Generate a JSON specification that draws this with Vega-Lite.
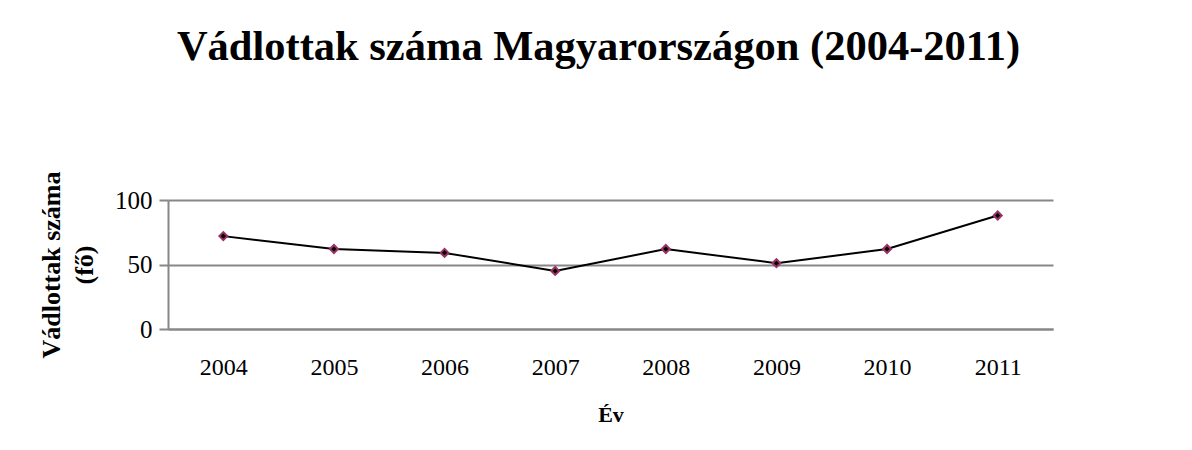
{
  "$schema": "https://vega.github.io/schema/vega-lite/v6.json",
  "width": 885,
  "height": 129,
  "autosize": {"type": "none"},
  "padding": {"left": 168, "top": 200, "right": 139, "bottom": 121},
  "background": "white",
  "title": {
    "text": "Vádlottak száma Magyarországon (2004-2011)",
    "font": "Liberation Serif",
    "fontSize": 42.5,
    "fontWeight": "bold",
    "color": "black",
    "anchor": "middle",
    "dx": -12,
    "offset": 102
  },
  "data": {
    "values": [
      {"ev": "2004", "vadlottak": 72},
      {"ev": "2005", "vadlottak": 62},
      {"ev": "2006", "vadlottak": 59},
      {"ev": "2007", "vadlottak": 45},
      {"ev": "2008", "vadlottak": 62},
      {"ev": "2009", "vadlottak": 51},
      {"ev": "2010", "vadlottak": 62},
      {"ev": "2011", "vadlottak": 88}
    ]
  },
  "encoding": {
    "x": {
      "field": "ev",
      "type": "ordinal",
      "scale": {"type": "point", "padding": 0.5},
      "axis": {
        "title": "Év",
        "labelAngle": 0,
        "ticks": false,
        "grid": false,
        "domainColor": "#878787",
        "domainWidth": 2,
        "labelFont": "Liberation Serif",
        "labelFontSize": 24,
        "labelColor": "black",
        "labelPadding": 26,
        "titleFont": "Liberation Serif",
        "titleFontSize": 22,
        "titleFontWeight": "bold",
        "titleColor": "black",
        "titlePadding": 25
      }
    },
    "y": {
      "field": "vadlottak",
      "type": "quantitative",
      "scale": {"domain": [0, 100], "nice": false},
      "axis": {
        "title": ["Vádlottak száma", "(fő)"],
        "values": [0, 50, 100],
        "grid": true,
        "gridColor": "#878787",
        "gridWidth": 2,
        "gridOpacity": 1,
        "domainColor": "#878787",
        "domainWidth": 2,
        "tickColor": "#878787",
        "tickWidth": 2,
        "tickSize": 9,
        "labelFont": "Liberation Serif",
        "labelFontSize": 25,
        "labelColor": "black",
        "labelPadding": 7,
        "titleFont": "Liberation Serif",
        "titleFontSize": 26,
        "titleFontWeight": "bold",
        "titleColor": "black",
        "titleLineHeight": 33,
        "titlePadding": 17
      }
    }
  },
  "layer": [
    {
      "mark": {"type": "line", "color": "black", "strokeWidth": 2}
    },
    {
      "mark": {"type": "point", "shape": "diamond", "size": 64, "filled": true, "fill": "black", "stroke": "#993366", "strokeWidth": 2, "opacity": 1}
    }
  ],
  "config": {
    "view": {"stroke": null}
  }
}
